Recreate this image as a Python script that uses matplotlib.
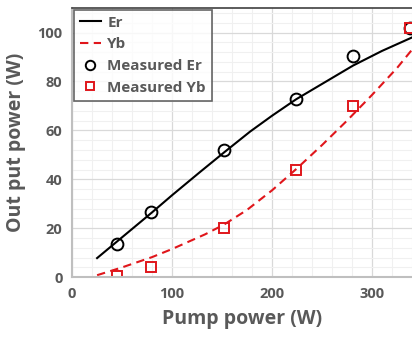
import matplotlib
matplotlib.use("Agg")
import matplotlib.pyplot as plt
from matplotlib.ticker import MultipleLocator

# fitted curves
er_fit_x = [25, 50, 80, 100, 128, 152, 178, 200, 224, 250, 281, 310, 340]
er_fit_y = [7.8, 16.3, 26.5, 33.5, 43, 51, 59.5, 66, 72.7, 79, 86.5, 92.5, 98]
yb_fit_x = [25, 50, 80, 100, 133, 152, 175, 200, 225, 250, 275, 300, 325, 340]
yb_fit_y = [0.8, 4, 8.2, 11.5, 17.5, 21.5, 27.5, 35.5, 44.5, 54, 64, 74.5, 85.5, 93]

# measured points
meas_x = [45, 79, 152, 224, 281, 338]
meas_er = [13.5, 26.8, 52, 73, 90.5, 102]
meas_yb = [0.5, 4, 20, 44, 70, 102]

grey = '#595959'
red = '#e0161b'
plt.rcParams['font.family'] = ['Open Sans', 'DejaVu Sans']

fig = plt.figure(figsize=(4.12, 3.38), dpi=100)
ax = fig.add_axes([0.175, 0.180, 0.825, 0.796])

ax.plot(er_fit_x, er_fit_y, color='black', lw=1.5, label='Er')
ax.plot(yb_fit_x, yb_fit_y, color=red, lw=1.5, dashes=(4, 2.6), label='Yb')
ax.plot(meas_x, meas_er, 'o', mfc='none', mec='black', mew=1.4, ms=8.5,
        label='Measured Er')
ax.plot(meas_x, meas_yb, 's', mfc='none', mec=red, mew=1.4, ms=7,
        label='Measured Yb')

ax.set_xlim(0, 340)
ax.set_ylim(0, 110)
ax.xaxis.set_major_locator(MultipleLocator(100))
ax.xaxis.set_minor_locator(MultipleLocator(20))
ax.yaxis.set_major_locator(MultipleLocator(20))
ax.yaxis.set_minor_locator(MultipleLocator(4))
ax.grid(which='major', color='#d9d9d9', lw=0.9)
ax.grid(which='minor', color='#f0f0f0', lw=0.8)
ax.set_axisbelow(True)

ax.tick_params(which='both', length=0, labelsize=10.5, labelcolor=grey, pad=7)
for lab in ax.get_xticklabels() + ax.get_yticklabels():
    lab.set_fontweight('bold')

for s in ['left', 'bottom']:
    ax.spines[s].set_color('#bfbfbf')
    ax.spines[s].set_linewidth(1.5)
ax.spines['right'].set_visible(False)
ax.spines['top'].set_color('#404040')
ax.spines['top'].set_linewidth(1.2)

ax.set_xlabel('Pump power (W)', fontsize=14, fontweight='bold', color=grey, labelpad=6)
ax.set_ylabel('Out put power (W)', fontsize=14, fontweight='bold', color=grey, labelpad=8)

leg = ax.legend(loc='upper left', fontsize=11, frameon=True, fancybox=False,
                borderaxespad=0.1, handlelength=1.4, handletextpad=0.4,
                labelspacing=0.5, borderpad=0.4, markerscale=0.8)
leg.get_frame().set_edgecolor('#404040')
leg.get_frame().set_linewidth(1.2)
for t in leg.get_texts():
    t.set_color(grey)
    t.set_fontweight('bold')

fig.savefig('out.png', dpi=100)
